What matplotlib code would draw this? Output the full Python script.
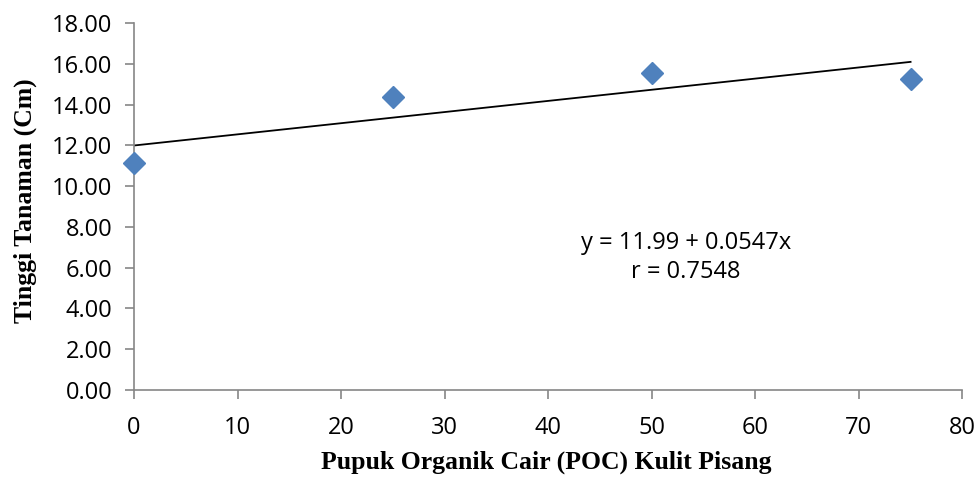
import matplotlib
matplotlib.use("Agg")
import matplotlib.pyplot as plt
import numpy as np

# data
poc_dose = [0, 25, 50, 75]
tinggi = [11.13, 14.37, 15.53, 15.25]
intercept = 11.99
slope = 0.0547
x_ticks = [0, 10, 20, 30, 40, 50, 60, 70, 80]
y_ticks = [0, 2, 4, 6, 8, 10, 12, 14, 16, 18]

fig = plt.figure(figsize=(9.78, 4.79), dpi=100)
ax = fig.add_axes([0.137, 0.186, 0.847, 0.766])

# trendline over the data range
xs = np.array([poc_dose[0], poc_dose[-1]])
ax.plot(xs, intercept + slope * xs, color='black', linewidth=1.3, zorder=2)
ax.plot(poc_dose, tinggi, linestyle='none', marker='D', markersize=11,
        color='#4F81BD', markeredgecolor='#4F81BD', zorder=3, clip_on=False)

ax.set_xlim(0, 80)
ax.set_ylim(0, 18)
ax.set_xticks(x_ticks)
ax.set_yticks(y_ticks)
ax.set_yticklabels([f"{v:.2f}" for v in y_ticks])

for side in ('top', 'right'):
    ax.spines[side].set_visible(False)
for side in ('left', 'bottom'):
    ax.spines[side].set_color('#868686')
    ax.spines[side].set_linewidth(1.2)
ax.tick_params(axis='both', direction='out', length=6.5, width=1.2, color='#868686',
               labelsize=17)
ax.tick_params(axis='x', pad=12)
ax.tick_params(axis='y', pad=9)
for lbl in ax.get_xticklabels() + ax.get_yticklabels():
    lbl.set_family('Open Sans')

ax.set_xlabel('Pupuk Organik Cair (POC) Kulit Pisang', family='Liberation Serif',
              fontweight='bold', fontsize=18.5, va='center')
ax.set_ylabel('Tinggi Tanaman (Cm)', family='Liberation Serif',
              fontweight='bold', fontsize=18.5, va='center')
ax.xaxis.set_label_coords(0.498, -0.197)
ax.yaxis.set_label_coords(-0.131, 0.515)

ax.text(53.3, 6.5, 'y = 11.99 + 0.0547x\nr = 0.7548', family='Open Sans',
        fontsize=17, ha='center', va='center', linespacing=1.25)

fig.savefig('out.png', dpi=100)
